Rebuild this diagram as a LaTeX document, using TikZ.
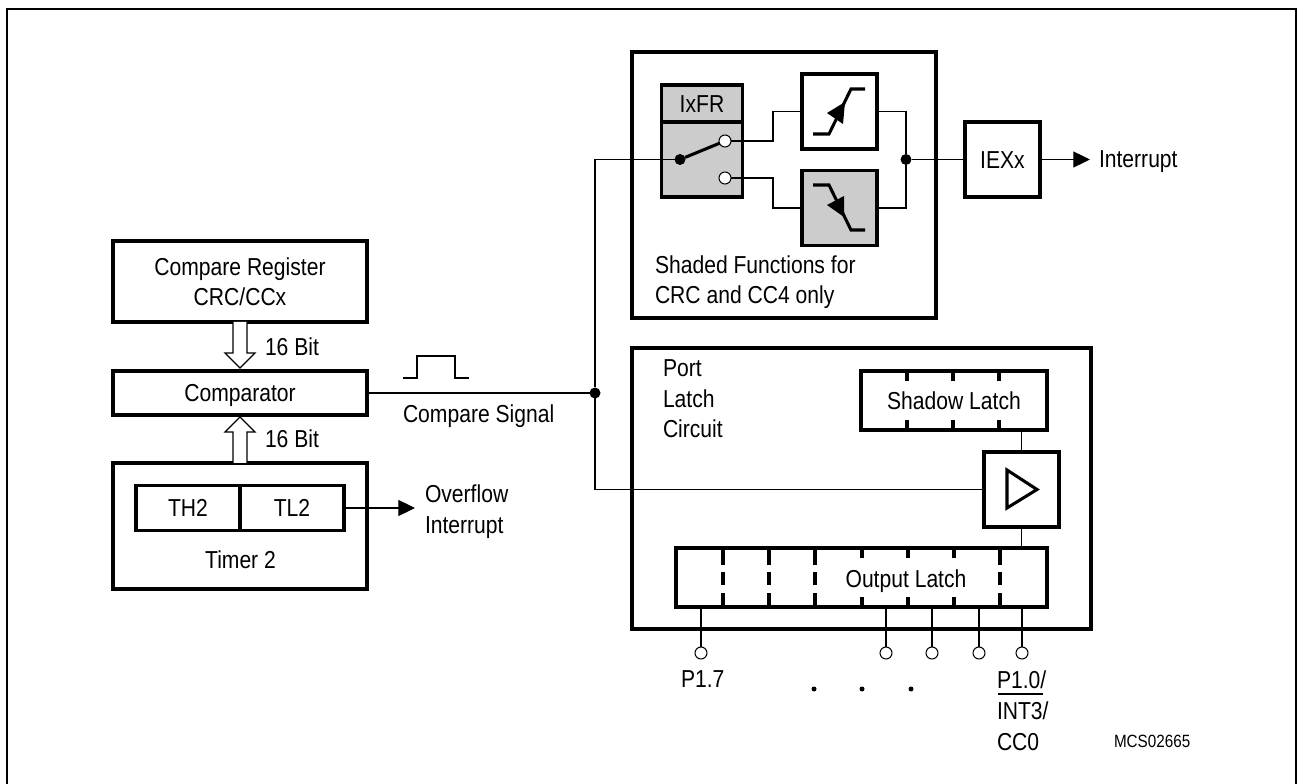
\documentclass[tikz,border=0pt]{standalone}
\usepackage{fontspec}
\setmainfont[FakeStretch=0.86]{Liberation Sans}
\usetikzlibrary{arrows.meta,positioning}
\definecolor{shadecolor}{RGB}{204,204,204}
\tikzset{
  thickline/.style={line width=2.3pt, line cap=butt},
  boxshape/.style 2 args={draw, thickline, fill=white, outer sep=0pt, inner sep=0pt,
    minimum width=#1*0.75pt, minimum height=#2*0.75pt},
  capstext/.style={text height=13.2pt, text depth=0pt},
  lbl/.style={anchor=base west, inner sep=0pt, outer sep=0pt, align=left},
  lblc/.style={anchor=base, inner sep=0pt, outer sep=0pt, align=center},
  jdot/.style={circle, fill=black, inner sep=0pt, minimum size=8.25pt, outer sep=0pt},
  pinring/.style={circle, draw, fill=white, line width=0.75pt, inner sep=0pt, minimum size=9pt, outer sep=0pt},
  busarrow/.style={fill=white}
}
\begin{document}
\begin{tikzpicture}[x=0.75pt, y=-0.75pt, line width=0.8pt, >={Triangle[length=12.5pt, width=12pt]},
    every node/.style={font=\fontsize{18.4}{23}\selectfont}]
    \useasboundingbox (0,0) rectangle (1297,784);
    % frame, runs off the page at the bottom
    \draw[line width=2pt] (7,800) -- (7,9) -- (1296.5,9) -- (1296.5,800);
    % --- compare part ---
    \node[boxshape={254}{81}] (compreg) at (240,281.5) {};
    \node[lblc] (compregtext) at (240,306) {Compare Register\\CRC/CCx};
    \node[boxshape={254}{44}, capstext] (comparator) at (240,393) {Comparator};
    \node[boxshape={254}{126}] (timer) at (240,526) {};
    \node[boxshape={104}{45}, capstext] (thtwo) at (188,508) {TH2};
    \node[boxshape={104}{45}, capstext] (tltwo) at (292,508) {TL2};
    \node[lblc] (timertext) at (240.5,568) {Timer 2};
    % 16 bit buses
    \draw[busarrow] (compreg.south) ++(-7,0) -- ++(0,31) -- ++(-8,0) -- ++(15,15) -- ++(15,-15) -- ++(-8,0) -- ++(0,-31);
    \draw[busarrow] (timer.north) ++(-7,0) -- ++(0,-31) -- ++(-8,0) -- ++(15,-15) -- ++(15,15) -- ++(-8,0) -- ++(0,31);
    \node[lbl] (bitup) at (265,356) {16 Bit};
    \node[lbl] (bitdown) at (265,448) {16 Bit};
    % overflow
    \coordinate (ovfend) at (415,508);
    \draw[->] (tltwo.east) -- (ovfend);
    \node[lbl] (ovftext) at (425,533) {Overflow\\Interrupt};
    % compare signal
    \draw[thickline, line width=2pt] (403,378) -- (417,378) -- (417,356) -- (455,356) -- (455,378) -- (469,378);
    \node[lbl] (sigtext) at (403,422) {Compare Signal};
    \node[jdot] (jsig) at (595,393) {};
    \draw (comparator.east) -- (jsig);
    % --- shaded functions ---
    \node[boxshape={304}{266}] (funcbox) at (784,185) {};
    \node[boxshape={81}{37}, fill=shadecolor, capstext] (ixfr) at (702,103.5) {IxFR};
    \node[boxshape={81}{75}, fill=shadecolor] (swbox) at (702,159.5) {};
    \node[boxshape={75}{75}] (risebox) at (839.5,111.5) {};
    \node[boxshape={75}{75}, fill=shadecolor] (fallbox) at (839.5,208) {};
    \node[jdot] (swdot) at (680,159.5) {};
    \node[pinring] (swup) at (725,141) {};
    \node[pinring] (swlow) at (725,178) {};
    \draw[thickline] (swdot) -- (swup);
    \draw (swdot) -| (jsig);
    % edge symbols
    \draw[thickline] (813,134) -- (829,134) -- (851,89) -- (865,89);
    \fill (845,102) -- (827,113) -- (843,124) -- cycle;
    \draw[thickline] (813,185) -- (829,185) -- (851,230) -- (865,230);
    \fill (844,217) -- (827,205) -- (844,196) -- cycle;
    \coordinate (midup) at (773,126);
    \coordinate (midlow) at (773,192);
    \draw (swup.east) -| (midup) |- (risebox.west);
    \draw (swlow.east) -| (midlow) |- (fallbox.west);
    \node[jdot] (jout) at (906,159.5) {};
    \draw (risebox.east) -| (jout);
    \draw (fallbox.east) -| (jout);
    \node[lbl] (shadedtext) at (655,304) {Shaded Functions for\\CRC and CC4 only};
    % interrupt enable
    \node[boxshape={75}{75}, capstext] (iexx) at (1002.5,159.5) {IEXx};
    \coordinate (intend) at (1090,159.5);
    \draw (jout) -- (iexx.west);
    \draw[->] (iexx.east) -- (intend);
    \node[lbl] (inttext) at (1099,168) {Interrupt};
    % --- port latch ---
    \node[boxshape={459}{281}] (portbox) at (861.5,488.5) {};
    \node[lbl] (porttext) at (663,438) {Port\\Latch\\Circuit};
    \node[boxshape={186}{59}, capstext] (shadow) at (954,400.5) {Shadow Latch};
    \node[boxshape={75}{75}] (driver) at (1021.5,489.5) {};
    \node[boxshape={371}{59}] (outlatch) at (861.5,577.5) {};
    \node[lblc] (outtext) at (906,587) {Output Latch};
    \draw[thickline] (1007,470) -- (1037,489.5) -- (1007,508) -- cycle;
    \draw (shadow.south -| driver) -- (driver.north);
    \draw (driver.south) -- (driver |- outlatch.north);
    \draw (jsig) |- (driver.west);
    % latch dividers
    \foreach \x in {907,953,999} {
      \draw[thickline] (\x,371) -- (\x,381);
      \draw[thickline] (\x,420) -- (\x,430);
    }
    \foreach \x in {723,769,815,1000} {
      \draw[thickline] (\x,548) -- (\x,565);
      \draw[thickline] (\x,572) -- (\x,585);
      \draw[thickline] (\x,593) -- (\x,607);
    }
    \foreach \x in {862,908,954} {
      \draw[thickline] (\x,548) -- (\x,558);
      \draw[thickline] (\x,597) -- (\x,607);
    }
    % pins
    \foreach \name/\x in {pinseven/701,pinfour/886,pinthree/932,pintwo/979,pinzero/1022} {
      \node[pinring] (\name) at (\x,653) {};
      \draw (outlatch.south -| \name) -- (\name);
    }
    \node[lbl] (pseventext) at (681,687) {P1.7};
    \node[lbl] (pzerotext) at (997,750) {P1.0/\\INT3/\\CC0};
    \draw (998,694) -- (1043,694);
    \foreach \name/\x in {dotone/814,dottwo/862,dotthree/911} {
      \node[circle, fill=black, inner sep=0pt, minimum size=3.75pt] (\name) at (\x,689) {};
    }
    \node[lbl, font=\fontsize{13.3}{15}\selectfont] (mcstext) at (1114,747) {MCS02665};
\end{tikzpicture}
\end{document}
